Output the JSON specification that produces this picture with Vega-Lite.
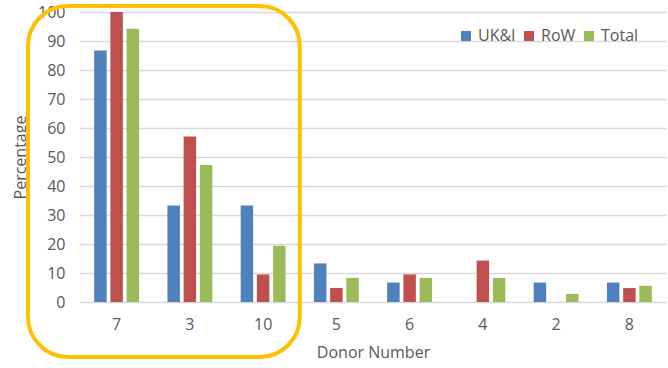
{
  "$schema": "https://vega.github.io/schema/vega-lite/v6.json",
  "width": 586,
  "height": 290,
  "autosize": "none",
  "padding": {"left": 80, "top": 12, "right": 2, "bottom": 66},
  "background": "white",
  "config": {
    "view": {"stroke": null},
    "font": "Open Sans",
    "axis": {"labelColor": "#595959", "titleColor": "#595959", "labelFontSize": 16, "titleFontSize": 16, "titleFontWeight": "normal"},
    "legend": {"labelColor": "#595959", "labelFontSize": 16}
  },
  "layer": [
    {
      "data": {
        "values": [
          {"donor": "7", "group": "UK&I", "value": 86.7},
          {"donor": "7", "group": "RoW", "value": 100},
          {"donor": "7", "group": "Total", "value": 94.2},
          {"donor": "3", "group": "UK&I", "value": 33.3},
          {"donor": "3", "group": "RoW", "value": 57.1},
          {"donor": "3", "group": "Total", "value": 47.2},
          {"donor": "10", "group": "UK&I", "value": 33.3},
          {"donor": "10", "group": "RoW", "value": 9.5},
          {"donor": "10", "group": "Total", "value": 19.4},
          {"donor": "5", "group": "UK&I", "value": 13.3},
          {"donor": "5", "group": "RoW", "value": 4.8},
          {"donor": "5", "group": "Total", "value": 8.3},
          {"donor": "6", "group": "UK&I", "value": 6.7},
          {"donor": "6", "group": "RoW", "value": 9.5},
          {"donor": "6", "group": "Total", "value": 8.3},
          {"donor": "4", "group": "UK&I", "value": 0},
          {"donor": "4", "group": "RoW", "value": 14.3},
          {"donor": "4", "group": "Total", "value": 8.3},
          {"donor": "2", "group": "UK&I", "value": 6.7},
          {"donor": "2", "group": "RoW", "value": 0},
          {"donor": "2", "group": "Total", "value": 2.8},
          {"donor": "8", "group": "UK&I", "value": 6.7},
          {"donor": "8", "group": "RoW", "value": 4.8},
          {"donor": "8", "group": "Total", "value": 5.6}
        ]
      },
      "mark": {"type": "bar"},
      "encoding": {
        "x": {
          "field": "donor",
          "type": "nominal",
          "scale": {"domain": ["7", "3", "10", "5", "6", "4", "2", "8"], "paddingInner": 0, "paddingOuter": 0},
          "title": "Donor Number",
          "axis": {"labelAngle": 0, "domain": false, "ticks": false, "labelPadding": 14, "titlePadding": 12}
        },
        "xOffset": {
          "field": "group",
          "sort": ["UK&I", "RoW", "Total"],
          "scale": {"paddingInner": 0.23, "paddingOuter": 0.875}
        },
        "y": {
          "field": "value",
          "type": "quantitative",
          "scale": {"domain": [0, 100]},
          "title": "Percentage",
          "axis": {
            "values": [0, 10, 20, 30, 40, 50, 60, 70, 80, 90, 100],
            "domain": false,
            "ticks": false,
            "labelPadding": 15,
            "gridColor": "#d9d9d9",
            "gridWidth": 1.5,
            "titleX": -60,
            "titleY": 145,
            "titleAngle": -90,
            "titleAlign": "center",
            "titleBaseline": "middle"
          }
        },
        "color": {
          "field": "group",
          "type": "nominal",
          "scale": {"domain": ["UK&I", "RoW", "Total"], "range": ["#4F81BD", "#C0504D", "#9BBB59"]},
          "legend": {
            "title": null,
            "orient": "none",
            "legendX": 378,
            "legendY": 16,
            "direction": "horizontal",
            "symbolType": "square",
            "symbolSize": 100,
            "symbolStrokeWidth": 0,
            "labelOffset": 4,
            "columnPadding": 5
          }
        }
      }
    },
    {
      "data": {"values": [{"from": "7", "to": "10", "top": 100, "bottom": 0}]},
      "mark": {
        "type": "rect",
        "fill": null,
        "fillOpacity": 0,
        "stroke": "#FFC000",
        "strokeWidth": 4,
        "cornerRadius": 40,
        "clip": false,
        "xOffset": -52,
        "x2Offset": 0,
        "yOffset": -6,
        "y2Offset": 55
      },
      "encoding": {
        "x": {
          "field": "from",
          "type": "nominal",
          "bandPosition": 0,
          "scale": {"domain": ["7", "3", "10", "5", "6", "4", "2", "8"], "paddingInner": 0, "paddingOuter": 0},
          "title": "Donor Number",
          "axis": {"labelAngle": 0, "domain": false, "ticks": false, "labelPadding": 14, "titlePadding": 12}
        },
        "x2": {"field": "to", "bandPosition": 1},
        "y": {
          "field": "top",
          "type": "quantitative",
          "scale": {"domain": [0, 100]},
          "title": "Percentage",
          "axis": {
            "values": [0, 10, 20, 30, 40, 50, 60, 70, 80, 90, 100],
            "domain": false,
            "ticks": false,
            "labelPadding": 15,
            "gridColor": "#d9d9d9",
            "gridWidth": 1.5,
            "titleX": -60,
            "titleY": 145,
            "titleAngle": -90,
            "titleAlign": "center",
            "titleBaseline": "middle"
          }
        },
        "y2": {"field": "bottom"}
      }
    }
  ]
}
